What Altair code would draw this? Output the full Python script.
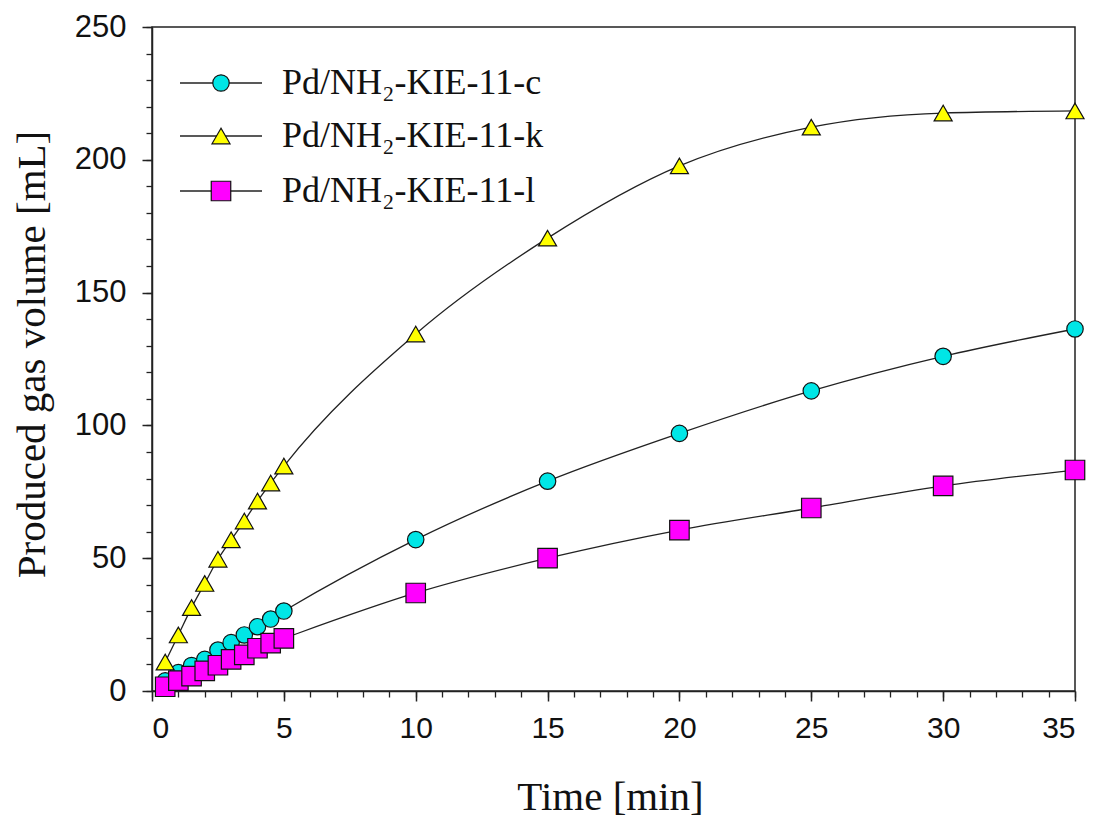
import altair as alt
import pandas as pd

time_min = [0.5, 1, 1.5, 2, 2.5, 3, 3.5, 4, 4.5, 5, 10, 15, 20, 25, 30, 35]
vol_c = [3.8, 6.9, 9.6, 11.9, 15.4, 18.2, 21.1, 24.2, 27.1, 30.1, 57.0, 79.0, 97.0, 113.0, 126.0, 136.3]
vol_k = [10.9, 21.1, 31.4, 40.5, 49.6, 56.9, 64.0, 71.5, 78.3, 84.7, 134.4, 170.5, 197.7, 212.3, 217.6, 218.4]
vol_l = [1.6, 3.9, 5.6, 7.6, 9.7, 11.9, 13.6, 16.1, 18.0, 19.8, 36.9, 50.0, 60.6, 68.9, 77.2, 83.2]

series_names = ["Pd/NH₂-KIE-11-c", "Pd/NH₂-KIE-11-k", "Pd/NH₂-KIE-11-l"]
series_shapes = ["circle", "triangle-up", "square"]
series_fills = ["#00E6E6", "#FFFF00", "#FF00FF"]
series_sizes = [270, 380, 230]

x_major = [0, 5, 10, 15, 20, 25, 30, 35]
x_minor = list(range(0, 36))
y_major = [0, 50, 100, 150, 200, 250]
y_minor = list(range(0, 251, 10))

rows = []
for name, vals in zip(series_names, [vol_c, vol_k, vol_l]):
    for t, v in zip(time_min, vals):
        rows.append({"series": name, "time": t, "volume": v})
df = pd.DataFrame(rows)

serif = "Liberation Serif"
sans = "Liberation Sans"

x_scale = alt.Scale(domain=[0, 35], nice=False, zero=False)
y_scale = alt.Scale(domain=[0, 250], nice=False)

shape_scale = alt.Scale(domain=series_names, range=series_shapes)
fill_scale = alt.Scale(domain=series_names, range=series_fills)
size_scale = alt.Scale(domain=series_names, range=series_sizes)

x_axis = alt.Axis(values=x_major, orient="bottom", title="Time [min]", grid=False,
                  tickSize=10, tickColor="#222", tickWidth=1.5,
                  domainColor="#222", domainWidth=1.5,
                  labelFont=sans, labelFontSize=30, labelColor="#111", labelPadding=12,
                  titleFont=serif, titleFontSize=41, titleFontWeight="normal", titleColor="#111",
                  titleX=458, titleY=106, titleBaseline="middle", titleAlign="center")
y_axis = alt.Axis(values=y_major, orient="left", title="Produced gas volume [mL]", grid=False,
                  tickSize=10, tickColor="#222", tickWidth=1.5,
                  domainColor="#222", domainWidth=1.5,
                  labelFont=sans, labelFontSize=31, labelColor="#111", labelPadding=16,
                  titleFont=serif, titleFontSize=41, titleFontWeight="normal", titleColor="#111",
                  titleX=-120, titleY=327, titleAngle=-90, titleBaseline="middle", titleAlign="center")

lines = alt.Chart(df).mark_line(color="#222", strokeWidth=1.3, interpolate="monotone").encode(
    x=alt.X("time:Q", scale=x_scale, axis=x_axis),
    y=alt.Y("volume:Q", scale=y_scale, axis=y_axis),
    detail="series:N",
)

points = alt.Chart(df).mark_point(filled=True, stroke="#111", strokeWidth=1.2, opacity=1).encode(
    x=alt.X("time:Q", scale=x_scale, axis=None),
    y=alt.Y("volume:Q", scale=y_scale, axis=None),
    shape=alt.Shape("series:N", scale=shape_scale, legend=None),
    fill=alt.Fill("series:N", scale=fill_scale, legend=None),
    size=alt.Size("series:N", scale=size_scale, legend=None),
)

# minor ticks via extra axes
minor_df = pd.DataFrame({"time": [0.0], "volume": [0.0]})
minor = alt.Chart(minor_df).mark_point(opacity=0).encode(
    x=alt.X("time:Q", scale=x_scale,
            axis=alt.Axis(values=x_minor, orient="bottom", labels=False, title=None, grid=False,
                          domain=False, tickSize=6, tickColor="#222", tickWidth=1.3)),
    y=alt.Y("volume:Q", scale=y_scale,
            axis=alt.Axis(values=y_minor, orient="left", labels=False, title=None, grid=False,
                          domain=False, tickSize=6, tickColor="#222", tickWidth=1.3)),
)

# legend
legend_layers = []
row_y = [56, 109, 164]
for i, name in enumerate(series_names):
    ldf = pd.DataFrame({"series": [name]})
    base = alt.Chart(ldf)
    rule = base.mark_rule(color="#222", strokeWidth=1.3).encode(
        x=alt.value(28), x2=alt.value(110), y=alt.value(row_y[i]))
    sym = base.mark_point(filled=True, stroke="#111", strokeWidth=1.2, opacity=1).encode(
        x=alt.value(69), y=alt.value(row_y[i]),
        shape=alt.Shape("series:N", scale=shape_scale, legend=None),
        fill=alt.Fill("series:N", scale=fill_scale, legend=None),
        size=alt.Size("series:N", scale=size_scale, legend=None),
    )
    txt = base.mark_text(align="left", baseline="middle", font=serif, fontSize=36, color="#111").encode(
        x=alt.value(130), y=alt.value(row_y[i]), text="series:N")
    legend_layers += [rule, sym, txt]

chart = alt.layer(lines, minor, points, *legend_layers).resolve_axis(
    x="independent", y="independent"
).properties(
    width=923, height=664,
    autosize=alt.AutoSizeParams(type="none"),
    padding={"left": 144, "top": 19, "right": 13, "bottom": 127},
).configure_view(stroke="#222", strokeWidth=1.5)

chart.save("out.html", embed_options={"renderer": "svg", "actions": False})
